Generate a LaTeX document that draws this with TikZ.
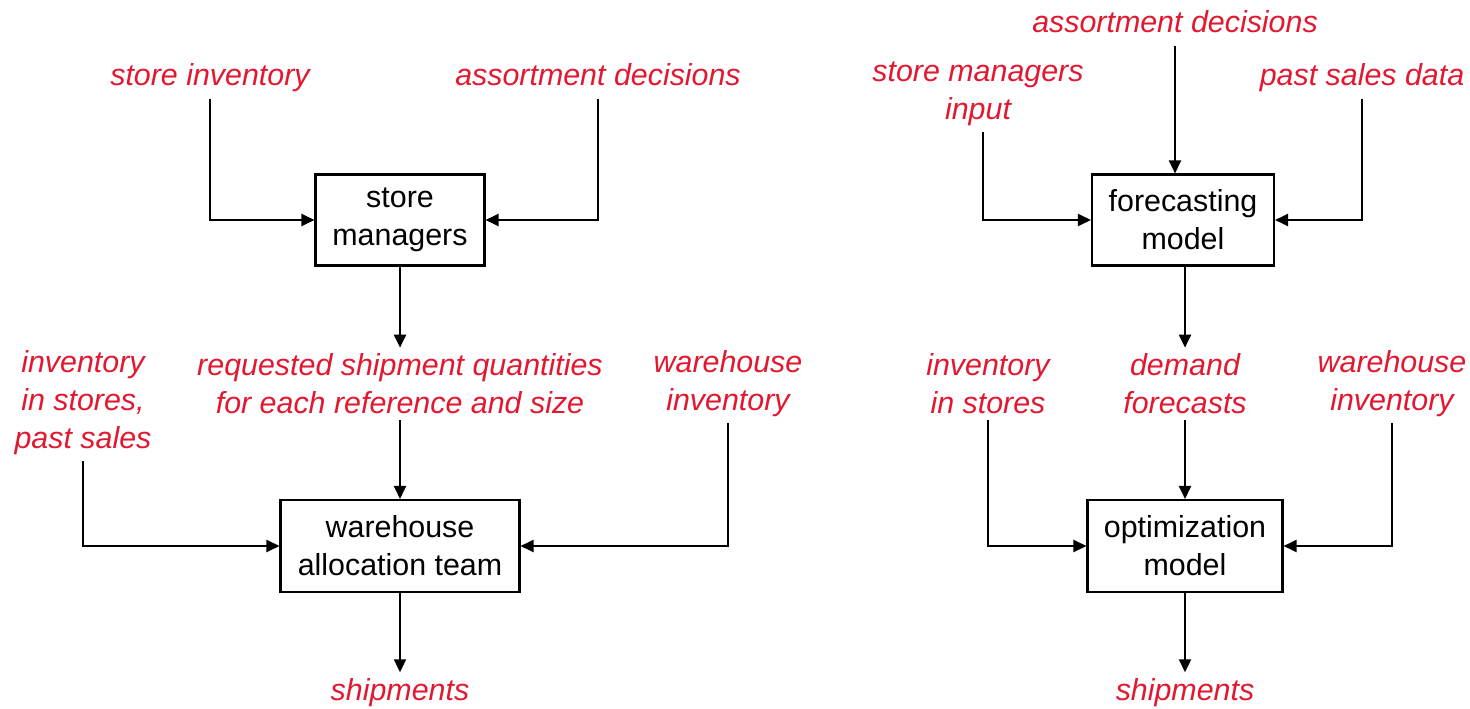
\documentclass[tikz,border=0pt]{standalone}
\usepackage{fontspec}
\setmainfont{Liberation Sans}
\usepackage{tikz}
\usetikzlibrary{arrows.meta}
\usetikzlibrary{calc}
\usetikzlibrary{positioning}

\definecolor{inred}{RGB}{226,24,48}

\tikzset{
  proc/.style={draw, line width=1.2pt, align=center, inner sep=2pt},
  info/.style={text=inred, align=center, font=\fontsize{17.3}{21.6}\selectfont\itshape},
  oneline/.style={info, text height=12.5pt, text depth=4pt, yshift=-0.06cm},
  flow/.style={-{Triangle[length=0.26cm, width=0.24cm]}, line width=1.2pt}
}

\begin{document}
\begin{tikzpicture}[x=0.02cm, y=-0.02cm, font=\fontsize{17.3}{21.6}\selectfont]
        \useasboundingbox (0,0) rectangle (1470,709);

        % current process
        \node[oneline] (lsi) at (210,75) {store inventory};
        \node[oneline] (lad) at (598,75) {assortment decisions};
        \node[proc, minimum width=3.38cm, minimum height=1.82cm] (sm) at (400,220) {store\\managers};
        \node[info] (rsq) at (400,384) {requested shipment quantities\\for each reference and size};
        \node[info] (inv) at (83,403) {inventory\\in stores,\\past sales};
        \node[info] (whi) at (728,384) {warehouse\\inventory};
        \node[proc, minimum width=4.78cm, minimum height=1.84cm] (wat) at (400,546) {warehouse\\allocation team};
        \node[oneline] (sh) at (400,690) {shipments};

        \draw[flow] (lsi.south) |- (sm.west);
        \draw[flow] (lad.south) |- (sm.east);
        \draw[flow] (sm) -- (rsq);
        \draw[flow] (rsq) -- (wat);
        \draw[flow] (inv.south) |- (wat.west);
        \draw[flow] (whi.south) |- (wat.east);
        \draw[flow] (wat) -- (sh);

        % new process
        \node[oneline] (rad) at (1175,22) {assortment decisions};
        \node[info] (smi) at (978,94) {store managers\\input};
        \node[oneline] (psd) at (1362,75) {past sales data};
        \node[proc, minimum width=3.64cm, minimum height=1.82cm] (fm) at (1183,220) {forecasting\\model};
        \node[info] (ins) at (988,384) {inventory\\in stores};
        \node[info] (df) at (1185,384) {demand\\forecasts};
        \node[info] (whi2) at (1392,384) {warehouse\\inventory};
        \node[proc, minimum width=3.9cm, minimum height=1.84cm] (om) at (1185,546) {optimization\\model};
        \node[oneline] (sh2) at (1185,690) {shipments};

        \draw[flow] (rad.south) -- (rad.south |- fm.north);
        \draw[flow] ($(smi.south)+(5,0)$) |- (fm.west);
        \draw[flow] (psd.south) |- (fm.east);
        \draw[flow] (fm.south -| df) -- (df);
        \draw[flow] (df) -- (om);
        \draw[flow] (ins.south) |- (om.west);
        \draw[flow] (whi2.south) |- (om.east);
        \draw[flow] (om) -- (sh2);
\end{tikzpicture}
\end{document}
